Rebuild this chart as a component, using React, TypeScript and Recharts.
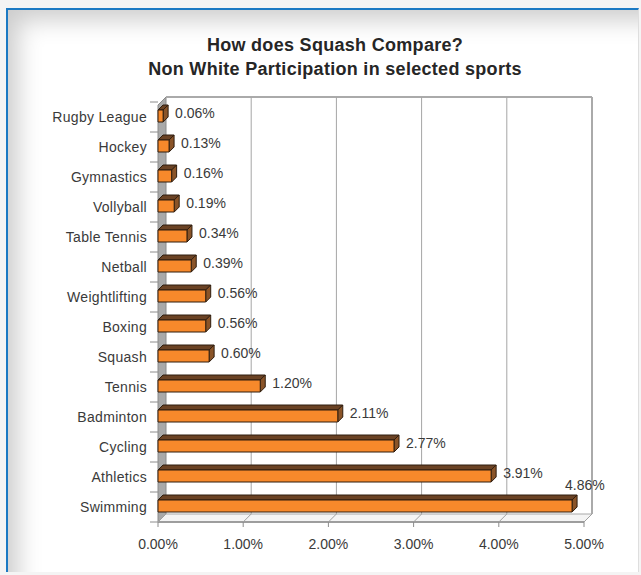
import { BarChart, Bar, XAxis, YAxis, LabelList } from "recharts";

const categories = [
  "Rugby League",
  "Hockey",
  "Gymnastics",
  "Vollyball",
  "Table Tennis",
  "Netball",
  "Weightlifting",
  "Boxing",
  "Squash",
  "Tennis",
  "Badminton",
  "Cycling",
  "Athletics",
  "Swimming",
];

const values = [0.06, 0.13, 0.16, 0.19, 0.34, 0.39, 0.56, 0.56, 0.6, 1.2, 2.11, 2.77, 3.91, 4.86];

const xTicks = [0, 1, 2, 3, 4, 5];

const data = categories.map((name, i) => ({ name, value: values[i] }));

// layout of the 3d box
const W = 641;
const H = 575;
const MARGIN = { top: 102, right: 57, bottom: 23, left: 8 };
const Y_AXIS_W = 150;
const X_AXIS_H = 30;
const PLOT_LEFT = MARGIN.left + Y_AXIS_W;
const PLOT_RIGHT = W - MARGIN.right;
const PLOT_TOP = MARGIN.top;
const PLOT_BOTTOM = H - MARGIN.bottom - X_AXIS_H;
const DEPTH = 8;
const BACK_TOP = PLOT_TOP - 5;
const BAND = (PLOT_BOTTOM - PLOT_TOP) / categories.length;
const FONT = "'Liberation Sans', Arial, sans-serif";

const XTick = (props: any) => {
  const { x, payload, index } = props;
  const last = index === xTicks.length - 1;
  return (
    <g>
      {index === 0 && (
        <g>
          <polygon
            points={`${PLOT_LEFT},${PLOT_BOTTOM} ${PLOT_LEFT + DEPTH},${PLOT_BOTTOM - DEPTH} ${PLOT_RIGHT + DEPTH},${PLOT_BOTTOM - DEPTH} ${PLOT_RIGHT},${PLOT_BOTTOM}`}
            fill="#f4f4f4"
            stroke="#a8a8a8"
          />
          <polygon
            points={`${PLOT_LEFT},${BACK_TOP + DEPTH} ${PLOT_LEFT + DEPTH},${BACK_TOP} ${PLOT_LEFT + DEPTH},${PLOT_BOTTOM - DEPTH} ${PLOT_LEFT},${PLOT_BOTTOM}`}
            fill="#a9a9a9"
            stroke="#8a8a8a"
          />
          <line
            x1={PLOT_LEFT + DEPTH}
            y1={BACK_TOP}
            x2={PLOT_RIGHT + DEPTH}
            y2={BACK_TOP}
            stroke="#aaaaaa"
            strokeWidth={2}
          />
          <line x1={PLOT_LEFT} y1={PLOT_BOTTOM} x2={PLOT_RIGHT} y2={PLOT_BOTTOM} stroke="#8c8c8c" strokeWidth={1.5} />
        </g>
      )}
      {index > 0 && (
        <line
          x1={x + DEPTH}
          y1={BACK_TOP}
          x2={x + DEPTH}
          y2={PLOT_BOTTOM - DEPTH}
          stroke={last ? "#aaaaaa" : "#a5a5a5"}
          strokeWidth={last ? 2 : 1}
        />
      )}
      <line x1={x} y1={PLOT_BOTTOM} x2={x + DEPTH} y2={PLOT_BOTTOM - DEPTH} stroke="#a0a0a0" />
      <line x1={x} y1={PLOT_BOTTOM} x2={x} y2={PLOT_BOTTOM + 5} stroke="#8c8c8c" />
      <text x={x} y={PLOT_BOTTOM + 27} textAnchor="middle" fontSize={14} fill="#3a3a3a" fontFamily={FONT}>
        {payload.value.toFixed(2)}%
      </text>
    </g>
  );
};

const YTick = (props: any) => {
  const { x, y, payload, index } = props;
  return (
    <g>
      <line x1={x} y1={y - BAND / 2} x2={PLOT_LEFT} y2={y - BAND / 2} stroke="#8c8c8c" />
      {index === categories.length - 1 && (
        <line x1={x} y1={y + BAND / 2} x2={PLOT_LEFT} y2={y + BAND / 2} stroke="#8c8c8c" />
      )}
      <text x={x - 3} y={y + 5} textAnchor="end" fontSize={14} letterSpacing={0.3} fill="#3a3a3a" fontFamily={FONT}>
        {payload.value}
      </text>
    </g>
  );
};

const Bar3D = (props: any) => {
  const { x, y, width, height } = props;
  const d = 5;
  const top = y - 1;
  const bottom = top + height;
  const right = x + width;
  return (
    <g stroke="#2f1d0e" strokeWidth={1} strokeLinejoin="round">
      <polygon
        points={`${x},${top} ${x + d},${top - d} ${right + d},${top - d} ${right},${top}`}
        fill="#6a4224"
      />
      <polygon
        points={`${right},${top} ${right + d},${top - d} ${right + d},${bottom - d} ${right},${bottom}`}
        fill="#8a5428"
      />
      <rect x={x} y={top} width={width} height={height} fill="#f7892b" />
    </g>
  );
};

const NoBar = () => <g />;

const ValueLabel = (props: any) => {
  const { x, y, width, height, value } = props;
  const text = `${Number(value).toFixed(2)}%`;
  let lx = x + width + 12;
  let ly = y + height / 2 + 1;
  if (lx + 42 > W - 20) {
    lx = x + width - 7;
    ly = y + height / 2 - 17;
  }
  return (
    <text x={lx} y={ly} fontSize={14} fill="#3a3a3a" fontFamily={FONT}>
      {text}
    </text>
  );
};

const App = () => {
  // two stacked charts with the same layout: the 3d box below, the bars on top
  return (
    <div style={{ position: "absolute", left: 0, top: 0, width: W, height: H, background: "#f4f4f4" }}>
      <div
        style={{
          position: "absolute",
          left: 6,
          top: 8,
          width: 630,
          height: 562,
          background: "#ffffff",
          borderTop: "2px solid #1b79c3",
          borderLeft: "2px solid #1b79c3",
          borderRight: "1px solid #dedede",
          boxShadow: "inset 22px 22px 24px -12px rgba(0,0,0,0.2)",
        }}
      />
      <div
        style={{
          position: "absolute",
          left: 0,
          top: 33,
          width: 670,
          textAlign: "center",
          fontFamily: FONT,
          fontWeight: "bold",
          fontSize: 18,
          letterSpacing: 0.3,
          lineHeight: "24px",
          color: "#262626",
        }}
      >
        How does Squash Compare?
        <br />
        Non White Participation in selected sports
      </div>
      <div style={{ position: "absolute", left: 0, top: 0 }}>
        <BarChart width={W} height={H} layout="vertical" data={data} margin={MARGIN}>
          <XAxis
            type="number"
            domain={[0, 5]}
            ticks={xTicks}
            height={X_AXIS_H}
            axisLine={false}
            tickLine={false}
            tick={<XTick />}
            interval={0}
          />
          <YAxis
            type="category"
            dataKey="name"
            width={Y_AXIS_W}
            axisLine={false}
            tickLine={false}
            tick={<YTick />}
            interval={0}
          />
          <Bar dataKey="value" barSize={12} shape={<NoBar />} isAnimationActive={false} />
        </BarChart>
      </div>
      <div style={{ position: "absolute", left: 0, top: 0 }}>
        <BarChart width={W} height={H} layout="vertical" data={data} margin={MARGIN}>
          <XAxis
            type="number"
            domain={[0, 5]}
            ticks={xTicks}
            height={X_AXIS_H}
            axisLine={false}
            tickLine={false}
            tick={false}
          />
          <YAxis
            type="category"
            dataKey="name"
            width={Y_AXIS_W}
            axisLine={false}
            tickLine={false}
            tick={false}
          />
          <Bar dataKey="value" barSize={12} shape={<Bar3D />} isAnimationActive={false}>
            <LabelList dataKey="value" content={<ValueLabel />} />
          </Bar>
        </BarChart>
      </div>
    </div>
  );
};

export default App;
